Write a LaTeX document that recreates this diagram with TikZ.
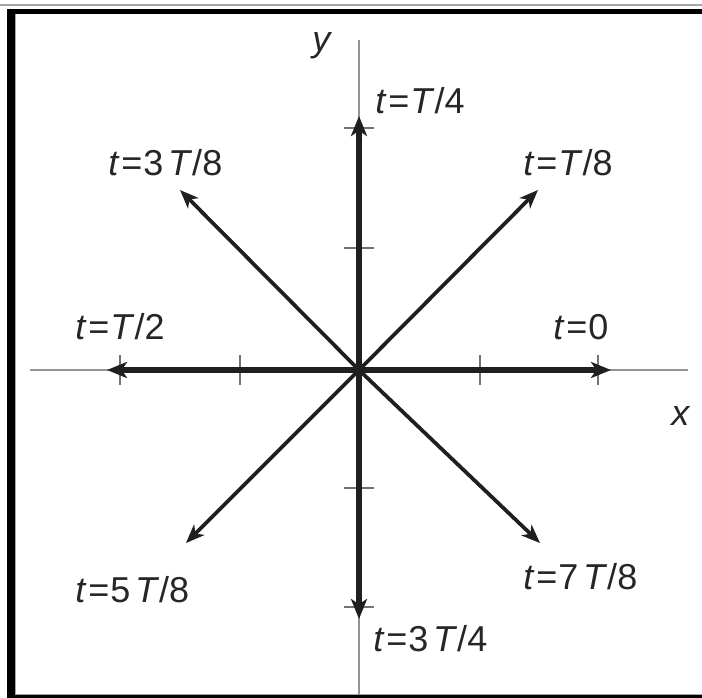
\documentclass[tikz,border=0pt]{standalone}
\usepackage{fontspec}
\setmainfont{Liberation Sans}
\usetikzlibrary{arrows.meta}
\begin{document}
\begin{tikzpicture}[x=0.75pt,y=-0.75pt,
  axis/.style={draw=black!42,line width=0.9pt},
  tick/.style={draw=black!55,line width=0.9pt},
  vecthick/.style={draw=black!88,line width=3.8pt,-{Stealth[length=15pt,width=12pt,inset=4pt]}},
  vecthin/.style={draw=black!88,line width=2.8pt,-{Stealth[length=14pt,width=11pt,inset=4pt]}},
  lbl/.style={inner sep=0pt,font=\fontsize{27}{32}\selectfont,text=black!85}]
\useasboundingbox (0,0) rectangle (702,698);
% frame
\draw[black!35,line width=0.8pt] (0,5) -- (702,5);
\fill[black] (7,9) rectangle (702,14.5);
\fill[black] (7,9) rectangle (15,698);
\fill[black] (7,695) rectangle (702,698);
\draw[black!35,line width=0.8pt] (15.5,14.5) -- (15.5,694.5) -- (702,694.5);
% axes
\coordinate (O) at (359,370);
\coordinate (xl) at (30,370);
\coordinate (xr) at (688,370);
\coordinate (yt) at (359,40);
\coordinate (yb) at (359,695);
\draw[axis] (xl) -- (xr);
\draw[axis] (yt) -- (yb);
% ticks
\foreach \tx in {120,240,480,598} \draw[tick] (\tx,355) -- (\tx,385);
\foreach \ty in {128,248,488,607} \draw[tick] (344,\ty) -- (374,\ty);
% vector tips
\coordinate (p0) at (611,370);
\coordinate (p1) at (538,190);
\coordinate (p2) at (359,116);
\coordinate (p3) at (180,190);
\coordinate (p4) at (107,370);
\coordinate (p5) at (186,543);
\coordinate (p6) at (359,619);
\coordinate (p7) at (540,543);
\draw[vecthick] (O) -- (p0);
\draw[vecthick] (O) -- (p4);
\draw[vecthick] (O) -- (p2);
\draw[vecthick] (O) -- (p6);
\draw[vecthin] (O) -- (p1);
\draw[vecthin] (O) -- (p3);
\draw[vecthin] (O) -- (p5);
\draw[vecthin] (O) -- (p7);
% labels
\node[lbl,anchor=west] (ly) at (312,46) {\textit{y}};
\node[lbl,anchor=west] (lx) at (671,416) {\textit{x}};
\node[lbl,anchor=west] (l0) at (553,327) {\textit{t}\kern0.05em=\kern0.03em0};
\node[lbl,anchor=west] (l1) at (523,163) {\textit{t}\kern0.05em=\kern0.03em\textit{T}/8};
\node[lbl,anchor=west] (l2) at (375,101) {\textit{t}\kern0.05em=\kern0.03em\textit{T}/4};
\node[lbl,anchor=west] (l3) at (108,163) {\textit{t}\kern0.05em=\kern0.03em3\kern0.13em\textit{T}/8};
\node[lbl,anchor=west] (l4) at (75,327) {\textit{t}\kern0.05em=\kern0.03em\textit{T}/2};
\node[lbl,anchor=west] (l5) at (75,590) {\textit{t}\kern0.05em=\kern0.03em5\kern0.13em\textit{T}/8};
\node[lbl,anchor=west] (l6) at (373,639) {\textit{t}\kern0.05em=\kern0.03em3\kern0.13em\textit{T}/4};
\node[lbl,anchor=west] (l7) at (523,577) {\textit{t}\kern0.05em=\kern0.03em7\kern0.13em\textit{T}/8};
\end{tikzpicture}
\end{document}
